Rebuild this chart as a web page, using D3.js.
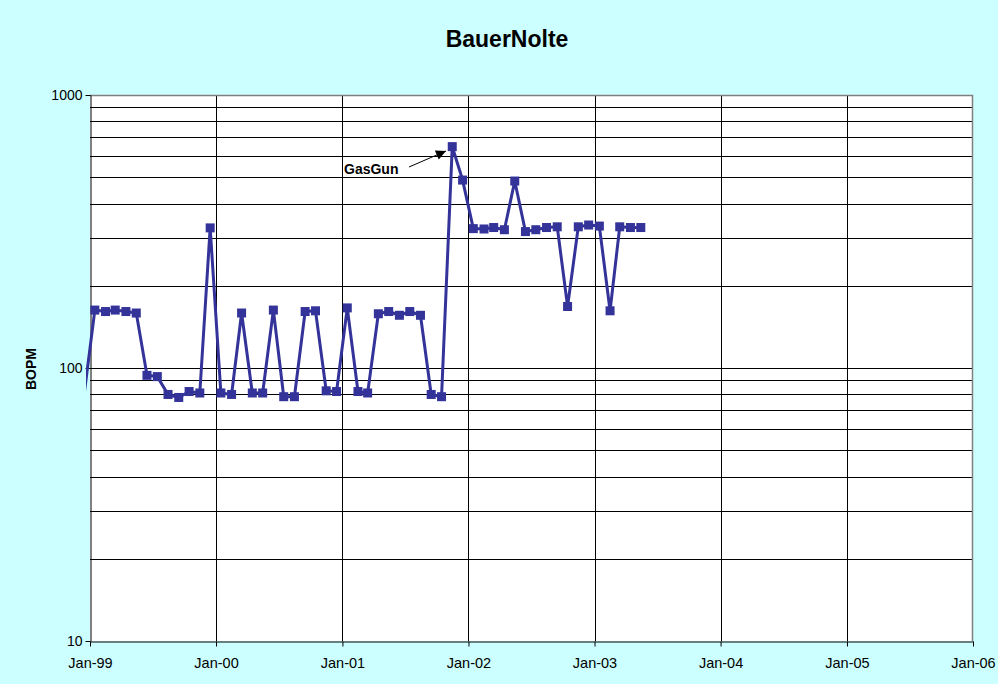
<!DOCTYPE html>
<html>
<head>
<meta charset="utf-8">
<script src="https://cdn.jsdelivr.net/npm/d3@7"></script>
<style>
  body { margin: 0; background: #ccffff; }
  svg { display: block; font-family: Arial, "Liberation Sans", sans-serif; }
</style>
</head>
<body>
<div id="chart"></div>
<script>
// monthly production, first point (Dec-98) sits just left of the axis
var months = ["1998-12",
  "1999-01","1999-02","1999-03","1999-04","1999-05","1999-06","1999-07","1999-08","1999-09","1999-10","1999-11","1999-12",
  "2000-01","2000-02","2000-03","2000-04","2000-05","2000-06","2000-07","2000-08","2000-09","2000-10","2000-11","2000-12",
  "2001-01","2001-02","2001-03","2001-04","2001-05","2001-06","2001-07","2001-08","2001-09","2001-10","2001-11","2001-12",
  "2002-01","2002-02","2002-03","2002-04","2002-05","2002-06","2002-07","2002-08","2002-09","2002-10","2002-11","2002-12",
  "2003-01","2003-02","2003-03","2003-04","2003-05"];
var bopm = [80,
  163, 161, 163, 161, 159, 94, 93, 80, 78, 82, 81, 326,
  81, 80, 159, 81, 81, 163, 78.5, 78.5, 161, 162, 82.5, 82,
  166, 82, 81, 158, 161, 156, 161, 156, 80, 78.5, 647, 488,
  324, 323, 327, 321, 484, 316, 321, 327, 329, 168, 329, 334,
  331, 162, 329, 327, 327];
var yTicks = [10, 100, 1000];
var xTickYears = [1999, 2000, 2001, 2002, 2003, 2004, 2005, 2006];

var svgWidth = 998, svgHeight = 684;
var margin = { top: 95, right: 25, bottom: 43, left: 90 };
var width = svgWidth - margin.left - margin.right;
var height = svgHeight - margin.top - margin.bottom;

var svg = d3.select("#chart").append("svg")
  .attr("width", svgWidth)
  .attr("height", svgHeight);

svg.append("rect").attr("width", svgWidth).attr("height", svgHeight).attr("fill", "#ccffff");

var chart = svg.append("g").attr("transform", `translate(${margin.left}, ${margin.top})`);

var parse = d3.timeParse("%Y-%m-%d");
var data = months.map(function(m, i) {
  return { date: parse(m + "-15"), value: bopm[i] };
});

var x = d3.scaleTime()
  .domain([new Date(1999, 0, 1), new Date(2006, 0, 1)])
  .range([0, width]);
var y = d3.scaleLog()
  .domain([10, 1000])
  .range([height, 0]);

// plot area
chart.append("rect")
  .attr("width", width).attr("height", height)
  .attr("fill", "#fff");

// horizontal grid (every minor log step)
var gridVals = [];
[10, 100].forEach(function(d) { for (var k = 2; k <= 9; k++) gridVals.push(d * k); });
gridVals.push(100);
chart.selectAll(".hgrid").data(gridVals).enter().append("line")
  .attr("x1", 0).attr("x2", width)
  .attr("y1", d => Math.round(y(d)) + 0.5)
  .attr("y2", d => Math.round(y(d)) + 0.5)
  .attr("stroke", "#000").attr("stroke-width", 1);

// vertical grid at each January
chart.selectAll(".vgrid").data(xTickYears.slice(1, -1)).enter().append("line")
  .attr("x1", d => Math.round(x(new Date(d, 0, 1))) + 0.5)
  .attr("x2", d => Math.round(x(new Date(d, 0, 1))) + 0.5)
  .attr("y1", 0).attr("y2", height)
  .attr("stroke", "#000").attr("stroke-width", 1);

// plot border top/right grey
chart.append("path")
  .attr("d", `M0,0.5H${width - 0.5}V${height}`)
  .attr("fill", "none").attr("stroke", "#808080").attr("stroke-width", 1.5);

// axes
var yAxis = d3.axisLeft(y).tickValues(yTicks).tickFormat(d3.format("d")).tickSize(5).tickSizeOuter(0);
var gy = chart.append("g").attr("transform", "translate(0.5,0)").call(yAxis);
var xAxis = d3.axisBottom(x)
  .tickValues(xTickYears.map(d => new Date(d, 0, 1)))
  .tickFormat(d3.timeFormat("%b-%y")).tickSize(5).tickSizeOuter(0);
var gx = chart.append("g").attr("transform", `translate(0,${height + 0.5})`).call(xAxis);

[gy, gx].forEach(function(g) {
  g.select(".domain").attr("stroke", "#000");
  g.selectAll(".tick line").attr("stroke", "#000");
  g.selectAll("text").attr("font-size", "14.5px").attr("fill", "#000")
    .attr("font-family", "Arial, 'Liberation Sans', sans-serif");
});
gy.selectAll("text").attr("x", -8).attr("font-size", "14px");
gx.selectAll("text").attr("y", 16);

// series
svg.append("clipPath").attr("id", "clip").append("rect")
  .attr("x", -4).attr("y", -5).attr("width", width + 8).attr("height", height + 10);

var line = d3.line().x(d => x(d.date)).y(d => y(d.value));
var series = chart.append("g").attr("clip-path", "url(#clip)");
series.append("path").datum(data)
  .attr("d", line)
  .attr("fill", "none")
  .attr("stroke", "#333399")
  .attr("stroke-width", 3)
  .attr("stroke-linejoin", "round");

series.selectAll(".pt").data(data.filter(d => x(d.date) >= 0)).enter().append("rect")
  .attr("x", d => x(d.date) - 4.5)
  .attr("y", d => y(d.value) - 4.5)
  .attr("width", 9).attr("height", 9)
  .attr("fill", "#333399");

// GasGun annotation
svg.append("defs").append("marker")
  .attr("id", "arrow").attr("viewBox", "0 0 10 10")
  .attr("refX", 10).attr("refY", 5)
  .attr("markerWidth", 13).attr("markerHeight", 10)
  .attr("markerUnits", "userSpaceOnUse")
  .attr("orient", "auto")
  .append("path").attr("d", "M0,0L10,5L0,10Z").attr("fill", "#000");

svg.append("line")
  .attr("x1", 409).attr("y1", 167).attr("x2", 446).attr("y2", 151)
  .attr("stroke", "#000").attr("stroke-width", 1)
  .attr("marker-end", "url(#arrow)");
svg.append("text")
  .attr("x", 344).attr("y", 174)
  .attr("font-size", "14px").attr("font-weight", "bold")
  .text("GasGun");

// titles
svg.append("text")
  .attr("x", 507).attr("y", 47)
  .attr("text-anchor", "middle")
  .attr("font-size", "23px").attr("font-weight", "bold")
  .text("BauerNolte");

svg.append("text")
  .attr("transform", "rotate(-90)")
  .attr("x", -369).attr("y", 36)
  .attr("text-anchor", "middle")
  .attr("font-size", "14px").attr("font-weight", "bold")
  .text("BOPM");
</script>
</body>
</html>
